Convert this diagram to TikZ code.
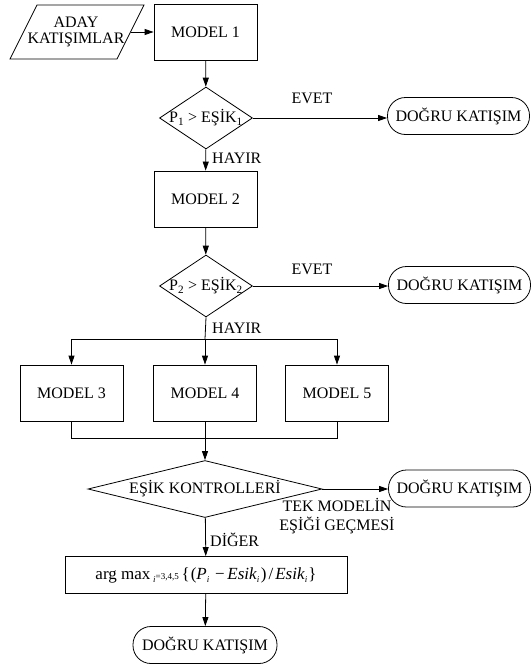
\documentclass[tikz,border=0pt]{standalone}
\usepackage{fontspec}
\setmainfont{Liberation Serif}
\usetikzlibrary{shapes.geometric,arrows.meta}
\newcommand{\lowsub}[1]{\raisebox{-3.5pt}{\fontsize{9}{10}\selectfont\textit{#1}}}
\begin{document}
\begin{tikzpicture}[x=1pt,y=-1pt,
  every node/.style={font=\fontsize{16}{17}\selectfont, inner sep=0pt},
  proc/.style={draw, thick, minimum width=103pt, minimum height=56pt},
  term/.style={draw, thick, rounded corners=18pt, minimum width=142pt, minimum height=37pt},
  decide/.style={draw, thick, diamond, aspect=1.5, inner sep=-9pt, minimum width=93pt, minimum height=62pt},
  lbl/.style={font=\fontsize{16}{17}\selectfont},
  flow/.style={thick, -{Triangle[length=9pt,width=6pt]}},
  line/.style={thick}]
\useasboundingbox (0,0) rectangle (531,672);

% input parallelogram
\coordinate (pa) at (37,5);
\coordinate (pb) at (144,5);
\coordinate (pc) at (117,59);
\coordinate (pd) at (10,59);
\draw[thick] (pa) -- (pb) -- (pc) -- (pd) -- cycle;
\node[align=center] (aday) at (76,32) {ADAY\\[-1pt]KATIŞIMLAR};
\coordinate (pout) at (131,32);

% first stage
\node[proc] (m1) at (205.5,32) {MODEL 1};
\node[decide] (d1) at (206,118) {P\textsubscript{1} > EŞİK\textsubscript{1}};
\node[term] (t1) at (458.5,116) {DOĞRU KATIŞIM};

% second stage
\node[proc] (m2) at (205.5,199) {MODEL 2};
\node[decide] (d2) at (206,286) {P\textsubscript{2} > EŞİK\textsubscript{2}};
\node[term] (t2) at (459.5,285) {DOĞRU KATIŞIM};

% parallel models
\coordinate (split) at (205,339);
\coordinate (sl) at (71.5,339);
\coordinate (sr) at (337,339);
\node[proc] (m3) at (71.5,393) {MODEL 3};
\node[proc] (m4) at (205,393) {MODEL 4};
\node[proc] (m5) at (337,393) {MODEL 5};
\coordinate (jl) at (71.5,438);
\coordinate (jm) at (205,438);
\coordinate (jr) at (337,438);

% threshold check
\node[draw, thick, diamond, aspect=4.1, minimum width=234pt, minimum height=57pt] (d3) at (205,489) {EŞİK KONTROLLERİ};
\node[term] (t3) at (459.5,488.5) {DOĞRU KATIŞIM};

% fallback selection
\node[draw, thick, minimum width=282pt, minimum height=37pt, font=\fontsize{17}{18}\selectfont] (am) at (206,575)
  {arg max\,\lowsub{i}{\fontsize{9}{10}\selectfont=3,4,5}\,\{\kern1pt(\textit{P}\lowsub{i}\,\,−\,\textit{Esik}\lowsub{i}\kern1.5pt)\kern2pt/\kern2pt\textit{Esik}\lowsub{i}\kern1pt\}};
\node[term, minimum width=144pt] (t4) at (205,645) {DOĞRU KATIŞIM};

% connectors
\draw[flow] (pout) -- (m1.west |- pout);
\draw[flow] (m1) -- (d1);
\draw[flow] (d1) -- (t1.west |- d1);
\draw[flow] (d1) -- (m2);
\draw[flow] (m2) -- (d2);
\draw[flow] (d2) -- (t2.west |- d2);
\draw[line] (d2.south) -- (split);
\draw[line] (sl) -- (sr);
\draw[flow] (sl) -- (m3);
\draw[flow] (split) -- (m4);
\draw[flow] (sr) -- (m5);
\draw[line] (m3.south) -- (jl) -- (jr) -- (m5.south);
\draw[line] (m4.south) -- (jm);
\draw[flow] (jm) -- (d3);
\draw[flow] (d3.east) -- (t3.west |- d3.east);
\draw[flow] (d3) -- (am);
\draw[flow] (am) -- (t4);

% branch labels
\node[lbl] (ev1) at (312,98) {EVET};
\node[lbl, anchor=west] (hy1) at (212,158) {HAYIR};
\node[lbl] (ev2) at (312,269) {EVET};
\node[lbl, anchor=west] (hy2) at (212,328) {HAYIR};
\node[lbl, align=center] (tek) at (337,516) {TEK MODELİN\\[2pt]EŞİĞİ GEÇMESİ};
\node[lbl, anchor=west] (dg) at (210,540) {DİĞER};
\end{tikzpicture}
\end{document}
